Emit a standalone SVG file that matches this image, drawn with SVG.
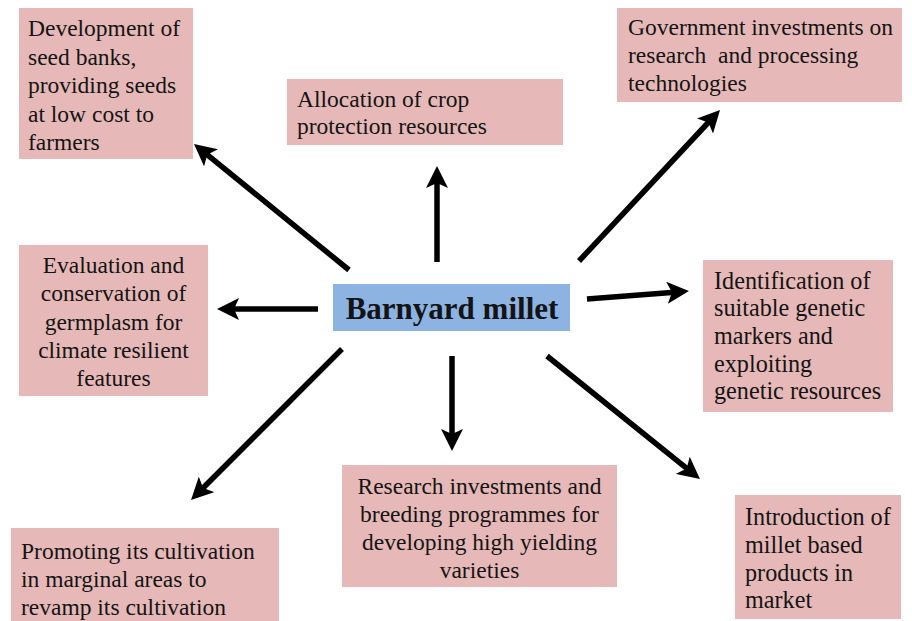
<svg xmlns="http://www.w3.org/2000/svg" width="912" height="621" viewBox="0 0 912 621">
<style>
.box{fill:#e6b9b8}
.ctr{fill:#8db3e2}
text{font-family:"Liberation Serif","Times New Roman",serif;font-size:23.5px;fill:#141414}
.c{text-anchor:middle}
.big{font-size:24.2px}
.title{font-size:31px;font-weight:bold}
.arr{stroke:#000;stroke-width:5.5;fill:none;marker-end:url(#ah)}
</style>
<defs>
<marker id="ah" markerWidth="4" markerHeight="4" refX="2" refY="2" orient="auto" markerUnits="strokeWidth">
<path d="M0,0 L4,2 L0,4 L0.9,2 z" fill="#000"/>
</marker>
</defs>
<rect width="912" height="621" fill="#fff"/>
<g id="connectors">
<line class="arr" x1="349" y1="270" x2="202.5" y2="150.9"/>
<line class="arr" x1="437" y1="262" x2="437" y2="177"/>
<line class="arr" x1="579" y1="261" x2="712.5" y2="118"/>
<line class="arr" x1="318" y1="309" x2="228" y2="309"/>
<line class="arr" x1="587" y1="299" x2="678" y2="291.9"/>
<line class="arr" x1="342" y1="349" x2="198.8" y2="492.2"/>
<line class="arr" x1="452" y1="356" x2="452" y2="440"/>
<line class="arr" x1="547" y1="356" x2="691.4" y2="472.2"/>
</g>
<g id="center">
<rect class="ctr" x="333" y="284" width="237" height="47"/>
<text class="title c" x="452" y="319">Barnyard millet</text>
</g>
<g id="seed-banks">
<rect class="box" x="19" y="8" width="174" height="151"/>
<text x="28" y="36">Development of</text>
<text x="28" y="64.5">seed banks,</text>
<text x="28" y="93">providing seeds</text>
<text x="28" y="121.5">at low cost to</text>
<text x="28" y="150">farmers</text>
</g>
<g id="crop-protection">
<rect class="box" x="287" y="79" width="276" height="66"/>
<text x="297" y="107">Allocation of crop</text>
<text x="297" y="134">protection resources</text>
</g>
<g id="government">
<rect class="box" x="617" y="8" width="285" height="94"/>
<text x="628" y="35">Government investments on</text>
<text x="628" y="63" xml:space="preserve">research  and processing</text>
<text x="628" y="91">technologies</text>
</g>
<g id="germplasm">
<rect class="box" x="19" y="245" width="189" height="151"/>
<text class="c" x="113.5" y="273">Evaluation and</text>
<text class="c" x="113.5" y="301">conservation of</text>
<text class="c" x="113.5" y="329.5">germplasm for</text>
<text class="c" x="113.5" y="358">climate resilient</text>
<text class="c" x="113.5" y="386">features</text>
</g>
<g id="genetic-markers">
<rect class="box" x="703" y="260" width="190" height="152"/>
<text class="big" x="714" y="288.5">Identification of</text>
<text class="big" x="714" y="316">suitable genetic</text>
<text class="big" x="714" y="344">markers and</text>
<text class="big" x="714" y="371.5">exploiting</text>
<text class="big" x="714" y="399">genetic resources</text>
</g>
<g id="marginal-areas">
<rect class="box" x="11" y="528" width="268" height="93"/>
<text x="21" y="559">Promoting its cultivation</text>
<text x="21" y="587">in marginal areas to</text>
<text x="21" y="615">revamp its cultivation</text>
</g>
<g id="breeding">
<rect class="box" x="342" y="465" width="275" height="122"/>
<text class="c" x="479.5" y="493.5">Research investments and</text>
<text class="c" x="479.5" y="522">breeding programmes for</text>
<text class="c" x="479.5" y="550">developing high yielding</text>
<text class="c" x="479.5" y="578">varieties</text>
</g>
<g id="products">
<rect class="box" x="735" y="495" width="166" height="124"/>
<text class="big" x="745" y="525">Introduction of</text>
<text class="big" x="745" y="553">millet based</text>
<text class="big" x="745" y="580.5">products in</text>
<text class="big" x="745" y="608">market</text>
</g>
</svg>
